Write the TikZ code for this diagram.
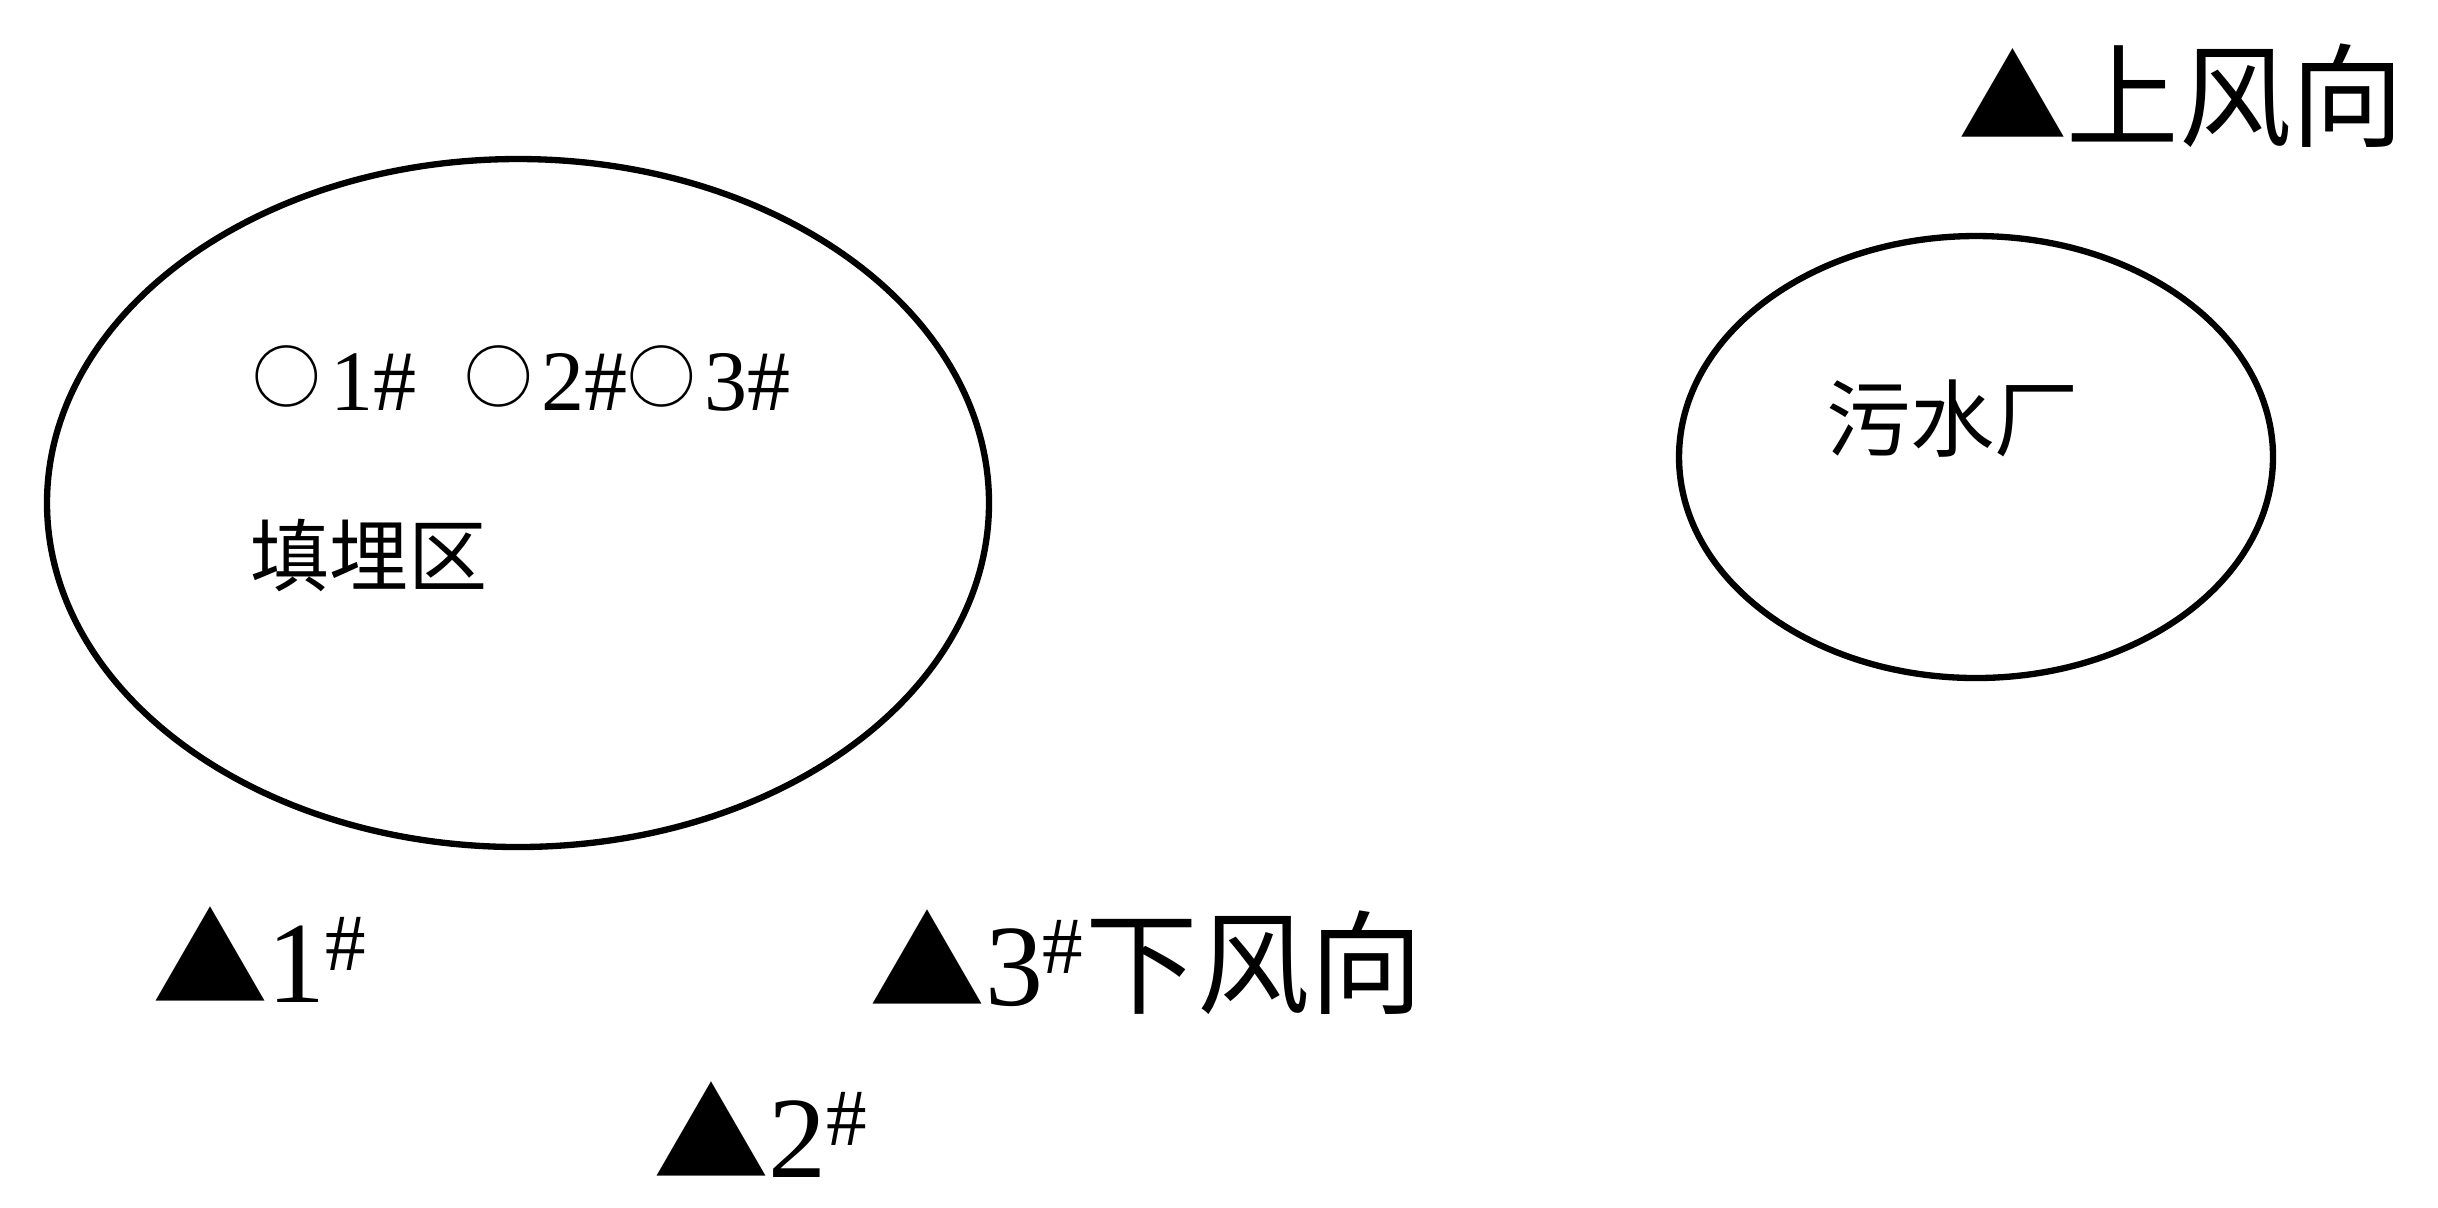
\documentclass[tikz,border=0pt]{standalone}
\usepackage{fontspec}
\setmainfont{Liberation Serif}
\newfontfamily\cjk{Noto Sans CJK SC}
\usetikzlibrary{shapes.geometric}
\newcommand{\wellmark}{\raisebox{2pt}{\fontsize{19.5}{19.5}\selectfont\cjk ○}}
\begin{document}
\begin{tikzpicture}[x=0.1mm,y=-0.1mm,
  region/.style={draw, ellipse, line width=1.8pt, inner sep=0pt},
  lbl/.style={inner sep=0pt, outer sep=0pt},
  big/.style={font=\fontsize{32}{32}\selectfont},
  mid/.style={font=\fontsize{22.5}{22.5}\selectfont},
  pt/.style={font=\fontsize{33}{33}\selectfont}]
\useasboundingbox (0,0) rectangle (2438,1207);
\fill[white] (0,0) rectangle (2438,1207);
\node[region, minimum width=94.2mm, minimum height=68.8mm] (landfill) at (518,503) {};
\node[region, minimum width=59.4mm, minimum height=44.2mm] (plant) at (1976,457) {};
% labels
\node[lbl, big, anchor=base west] (up) at (1958,138) {{\fontsize{31}{31}\selectfont\cjk ▲}{\cjk 上风向}};
\node[lbl, font=\fontsize{24.5}{24.5}\selectfont, anchor=base west] (wells) at (252,410) {\wellmark\hspace{0.12em}1\#\hspace{0.55em}\wellmark\hspace{0.1em}2\#\wellmark\hspace{0.1em}3\#};
\node[lbl, mid, anchor=west] (lname) at (250,555) {\cjk 填埋区};
\node[lbl, font=\fontsize{24}{24}\selectfont, anchor=west] (pname) at (1826,419) {\cjk 污水厂};
\node[lbl, pt, anchor=base west] (p1) at (152,1002) {{\cjk ▲}1\textsuperscript{\#}};
\node[lbl, pt, anchor=base west] (p3) at (869,1005) {{\cjk ▲}3\textsuperscript{\#}{\fontsize{32}{32}\selectfont\cjk 下风向}};
\node[lbl, pt, anchor=base west] (p2) at (653,1177) {{\cjk ▲}2\textsuperscript{\#}};
\end{tikzpicture}
\end{document}
